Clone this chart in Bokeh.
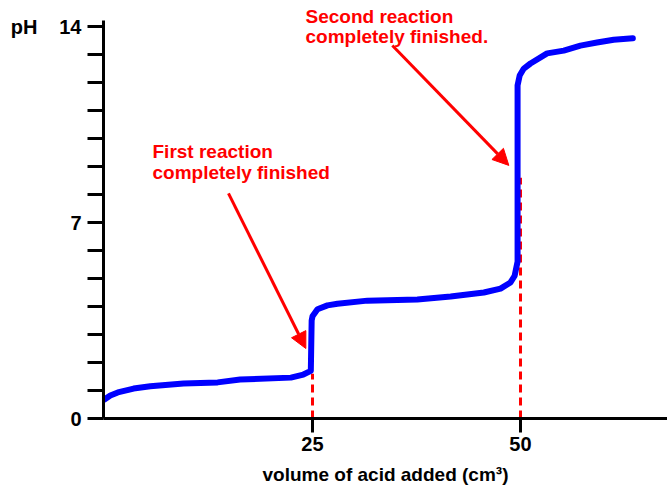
from bokeh.plotting import figure
from bokeh.models import (LinearAxis, FixedTicker, Range1d, Label, Arrow,
                          NormalHead)
from bokeh.embed import file_html
from bokeh.resources import INLINE

# ---- data ----
volume = [0, 0.7, 1.6, 3.5, 5.5, 9.5, 13.6, 16.3, 22.4, 23.9, 24.8, 24.9, 25.0,
          25.6, 26.8, 28.0, 31.6, 37.6, 41.6, 45.6, 47.6, 48.8, 49.3, 49.65,
          49.65, 49.9, 50.4, 51.2, 53.2, 55.2, 57.2, 59.2, 61.2, 63.5]
ph = [0.68, 0.82, 0.93, 1.07, 1.15, 1.25, 1.29, 1.39, 1.46, 1.57, 1.7, 3.5, 3.65,
      3.9, 4.04, 4.1, 4.21, 4.25, 4.36, 4.5, 4.64, 4.86, 5.1, 5.6,
      11.9, 12.25, 12.5, 12.68, 13.04, 13.14, 13.32, 13.43, 13.53, 13.58]

end_points = [25, 50]
end_marker_top = [1.6, 8.6]

x_ticks = [25, 50]
y_ticks = list(range(0, 15))
y_labels = {0: "0", 7: "7", 14: "14"}

note1 = ["First reaction", "completely finished"]
note2 = ["Second reaction", "completely finished."]
x_title = "volume of acid added (cm³)"
y_title = "pH"

FONT = "Liberation Sans"

p = figure(width=667, height=492, output_backend="svg", toolbar_location=None,
           x_range=Range1d(-0.12, 67.67), y_range=Range1d(0, 14.93),
           y_axis_location=None, min_border_left=103, min_border_right=0,
           min_border_top=0, min_border_bottom=74)
p.outline_line_color = None
p.grid.visible = False
p.background_fill_color = "white"
p.border_fill_color = "white"

# x axis
xa = p.xaxis[0]
xa.ticker = FixedTicker(ticks=x_ticks)
xa.axis_line_width = 3
xa.axis_line_color = "black"
xa.major_tick_line_width = 3
xa.major_tick_out = 14
xa.major_tick_in = 0
xa.minor_tick_line_color = None
xa.major_label_standoff = 4
xa.major_label_text_font = FONT
xa.major_label_text_font_style = "bold"
xa.major_label_text_font_size = "20px"
xa.major_label_text_color = "black"
xa.axis_label = x_title
xa.axis_label_text_font = FONT
xa.axis_label_text_font_style = "bold"
xa.axis_label_text_font_size = "19px"
xa.axis_label_text_color = "black"
xa.axis_label_standoff = 10

# y axis
ya = LinearAxis(bounds=(0, 14.2))
ya.ticker = FixedTicker(ticks=y_ticks)
ya.major_label_overrides = {t: y_labels.get(t, "") for t in y_ticks}
ya.axis_line_width = 3
ya.axis_line_color = "black"
ya.major_tick_line_width = 3
ya.major_tick_out = 16
ya.major_tick_in = 0
ya.minor_tick_line_color = None
ya.major_label_standoff = 6
ya.major_label_text_font = FONT
ya.major_label_text_font_style = "bold"
ya.major_label_text_font_size = "20px"
ya.major_label_text_color = "black"
p.add_layout(ya, "left")

# "pH" name, as a label-only axis beside the first
ya2 = LinearAxis(ticker=FixedTicker(ticks=[14]), major_label_overrides={14: y_title})
ya2.axis_line_color = None
ya2.major_tick_line_color = None
ya2.minor_tick_line_color = None
ya2.major_tick_out = 0
ya2.major_tick_in = 0
ya2.major_label_standoff = 19
ya2.major_label_text_font = FONT
ya2.major_label_text_font_style = "bold"
ya2.major_label_text_font_size = "20px"
ya2.major_label_text_color = "black"
p.add_layout(ya2, "left")

# dashed markers for end points
p.segment(x0=end_points, y0=[0, 0], x1=end_points, y1=end_marker_top,
          line_color="#ff0000", line_width=3, line_dash="8 5")

# titration curve
p.line(volume, ph, line_color="#0000ff", line_width=6, line_join="round",
       line_cap="round")

# arrows
for (x0, y0, x1, y1) in [(14.9, 8.04, 24.2, 2.5), (34.6, 13.32, 48.6, 9.04)]:
    p.add_layout(Arrow(x_start=x0, y_start=y0, x_end=x1, y_end=y1,
                       line_color="#ff0000", line_width=3,
                       end=NormalHead(size=16, fill_color="#ff0000",
                                      line_color="#ff0000")))

# notes
for txt, x, y in [(note1[0], 5.77, 9.54), (note1[1], 5.77, 8.79),
                  (note2[0], 24.16, 14.36), (note2[1], 24.16, 13.64)]:
    p.add_layout(Label(x=x, y=y, text=txt, text_color="#ff0000",
                       text_font=FONT, text_font_style="bold",
                       text_font_size="19px", text_baseline="alphabetic"))

open("out.html", "w").write(file_html(p, INLINE))
